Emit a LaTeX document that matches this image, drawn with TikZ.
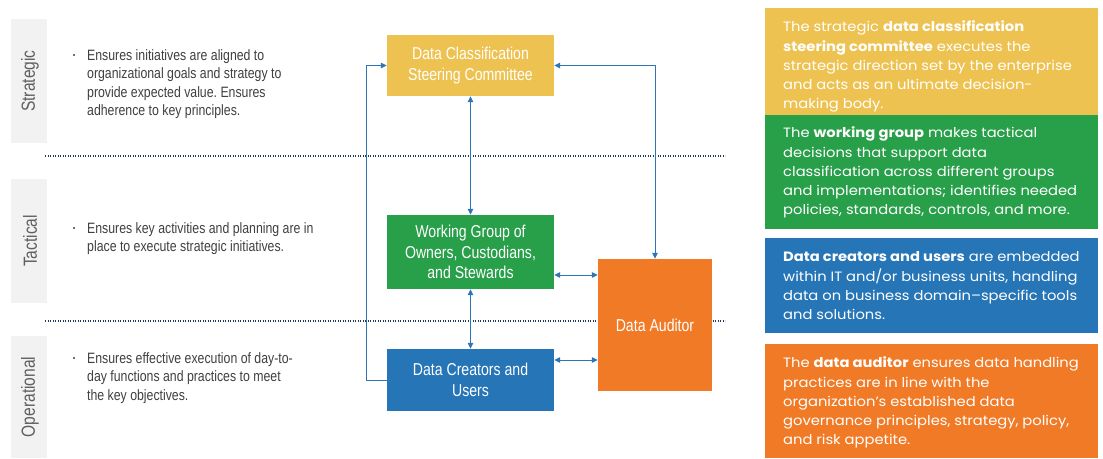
\documentclass[tikz,border=0pt]{standalone}
\usepackage{fontspec}
\usetikzlibrary{arrows.meta}
\frenchspacing
\newfontfamily\condfont[FakeStretch=0.82]{Liberation Sans}
\newfontfamily\descfont[FakeStretch=1.09]{Poppins}
\definecolor{cYellow}{HTML}{EEC251}
\definecolor{cGreen}{HTML}{289F49}
\definecolor{cBlue}{HTML}{2675B7}
\definecolor{cOrange}{HTML}{F07A26}
\definecolor{cLine}{HTML}{2E75B6}
\definecolor{cDot}{HTML}{1F3A56}
\definecolor{cBar}{HTML}{F2F2F2}
\definecolor{cLabel}{HTML}{5F5F5F}
\definecolor{cText}{HTML}{404040}
\newcommand{\fl}{\rule{0pt}{12pt}}
\tikzset{
  box/.style={draw=none, text=white, align=center, inner sep=0pt,
    font=\condfont\fontsize{17.2}{20.5}\selectfont},
  levellabel/.style={rotate=90, text=cLabel, inner sep=0pt,
    font=\condfont\fontsize{19}{22}\selectfont},
  bullettext/.style={anchor=north west, align=left, inner sep=0pt, text=cText,
    font=\condfont\fontsize{15}{18.5}\selectfont},
  bulletdot/.style={inner sep=0pt, fill=cText, circle, minimum size=2.2pt},
  desc/.style={anchor=north west, align=left, inner sep=0pt, text=white,
    font=\descfont\fontsize{13.5}{19.3}\selectfont},
  conn/.style={draw=cLine, line width=1pt},
  tip/.style={-{Triangle[length=6pt,width=5.5pt]}},
  dtip/.style={{Triangle[length=6pt,width=5.5pt]}-{Triangle[length=6pt,width=5.5pt]}},
  divider/.style={draw=cDot, line width=1.6pt, dash pattern=on 1.2pt off 1.3pt}
}
\begin{document}
\begin{tikzpicture}[x=1pt,y=-1pt]
\useasboundingbox[fill=white] (0,0) rectangle (1103,458);

% level bars
\fill[cBar] (11,19) rectangle (47,143);
\fill[cBar] (11,179) rectangle (47,303);
\fill[cBar] (11,336) rectangle (47,458);
\node[levellabel] (lS) at (30,81) {Strategic};
\node[levellabel] (lT) at (30,241) {Tactical};
\node[levellabel] (lO) at (30,397) {Operational};

% bullets
\node[bulletdot] (b1) at (74,55) {};
\node[bullettext] (t1) at (87,48) {\fl Ensures initiatives are aligned to\\organizational goals and strategy to\\provide expected value. Ensures\\adherence to key principles.};
\node[bulletdot] (b2) at (74,228) {};
\node[bullettext] (t2) at (87,221) {\fl Ensures key activities and planning are in\\place to execute strategic initiatives.};
\node[bulletdot] (b3) at (74,358) {};
\node[bullettext] (t3) at (87,351) {\fl Ensures effective execution of day-to-\\day functions and practices to meet\\the key objectives.};

% dividers
\coordinate (d1a) at (45,156);
\coordinate (d1b) at (725,156);
\coordinate (d2a) at (45,321);
\coordinate (d2b) at (725,321);
\draw[divider] (d1a) -- (d1b);
\draw[divider] (d2a) -- (d2b);

% boxes
\node[box, fill=cYellow, minimum width=167pt, minimum height=61pt] (dcsc) at (470.5,65.5) {Data Classification\\Steering Committee};
\node[box, fill=cGreen, minimum width=167pt, minimum height=74pt] (wg) at (470.5,252) {Working Group of\\Owners, Custodians,\\and Stewards};
\node[box, fill=cBlue, minimum width=167pt, minimum height=62pt] (dcu) at (470.5,380) {Data Creators and\\Users};
\node[box, fill=cOrange, minimum width=114pt, minimum height=132pt] (aud) at (655,325) {Data Auditor};

% connectors
\draw[conn, dtip] (dcsc.south) -- (wg.north);
\draw[conn, dtip] (wg.south) -- (dcu.north);
\coordinate (p1) at ([yshift=-23pt]wg.east);
\draw[conn, dtip] (p1) -- (p1 -| aud.west);
\coordinate (p2) at ([yshift=20pt]dcu.east);
\draw[conn, dtip] (p2) -- (p2 -| aud.west);
\coordinate (p3) at ([xshift=-20pt]dcu.west);
\draw[conn, tip] (dcu.west) -- (p3) |- (dcsc.west);
\draw[conn, dtip] (aud.north) |- (dcsc.east);

% description panels
\fill[cYellow] (765,8) rectangle (1098,115);
\fill[cGreen] (765,115) rectangle (1098,229);
\fill[cBlue] (765,238) rectangle (1098,333);
\fill[cOrange] (765,344) rectangle (1098,458);
\node[desc] (r1) at (783,19.5) {\fl The strategic \textbf{data classification}\\\textbf{steering committee} executes the\\strategic direction set by the enterprise\\and acts as an ultimate decision-\\making body.};
\node[desc] (r2) at (783,125.5) {\fl The \textbf{working group} makes tactical\\decisions that support data\\classification across different groups\\and implementations; identifies needed\\policies, standards, controls, and more.};
\node[desc] (r3) at (783,249.5) {\fl \textbf{Data creators and users} are embedded\\within IT and/or business units, handling\\data on business domain–specific tools\\and solutions.};
\node[desc] (r4) at (783,355.5) {\fl The \textbf{data auditor} ensures data handling\\practices are in line with the\\organization’s established data\\governance principles, strategy, policy,\\and risk appetite.};
\end{tikzpicture}
\end{document}
